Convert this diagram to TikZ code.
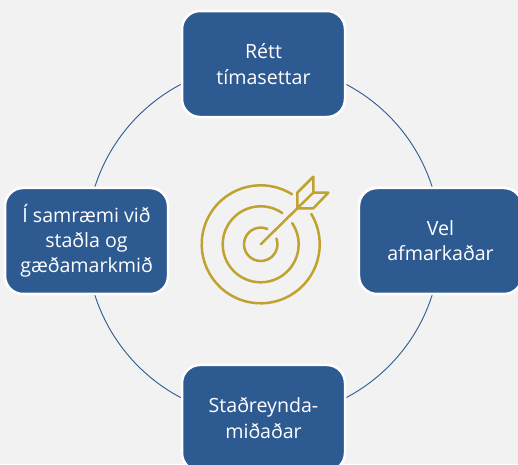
\documentclass[tikz,border=0pt]{standalone}
\usepackage{fontspec}
\setmainfont{Open Sans}
\usetikzlibrary{backgrounds}
\definecolor{boxblue}{HTML}{2D5A91}
\definecolor{gold}{HTML}{BFA22F}
\definecolor{paper}{HTML}{F2F2F2}
\begin{document}
\begin{tikzpicture}[x=1pt, y=-1pt, node distance={250.3pt},
    main/.style = {draw=white, fill=boxblue, text=white, line width=2.5pt, rounded corners=18pt,
        minimum width=163pt, minimum height=106pt, align=center, font=\fontsize{19.6}{25.2}\selectfont},
    ringline/.style = {draw=boxblue, line width=0.9pt},
    icon/.style = {draw=gold, line width=2.5pt, line cap=round, line join=round}]
    \useasboundingbox (0,0) rectangle (518,464);
    \node[main] (1) at (263.5,64) {Rétt\\tímasettar};
    \node[main] (2) [below right of=1] {Vel\\afmarkaðar};
    \node[main] (3) [below left of=2] {Staðreynda-\\miðaðar};
    \node[main] (4) [above left of=3] {Í samræmi við\\staðla og\\gæðamarkmið};
    \begin{scope}[on background layer]
        \fill[paper] (0,0) rectangle (518,464);
        \draw[ringline] (1.center) to[bend left=45] (2.center);
        \draw[ringline] (2.center) to[bend left=45] (3.center);
        \draw[ringline] (3.center) to[bend left=45] (4.center);
        \draw[ringline] (4.center) to[bend left=45] (1.center);
    \end{scope}
    \coordinate (bull) at (260.7,244.3);
    % target rings
    \draw[icon] (bull) ++(-58:59) arc[start angle=-58, end angle=-391, radius=59];
    \draw[icon] (bull) ++(-55.5:38) arc[start angle=-55.5, end angle=-394, radius=38];
    \draw[icon] (bull) ++(-66.6:16.7) arc[start angle=-66.6, end angle=-380, radius=16.7];
    % arrow
    \coordinate (tail) at (297.3,208.3);
    \draw[icon] (bull) -- (tail);
    \draw[icon] (tail) -- (297.3,192.7) -- (313.3,176.7) -- (313.3,192.7) -- cycle;
    \draw[icon] (313.3,192.7) -- (328.3,192.7) -- (313.3,208.3) -- (tail);
\end{tikzpicture}
\end{document}
